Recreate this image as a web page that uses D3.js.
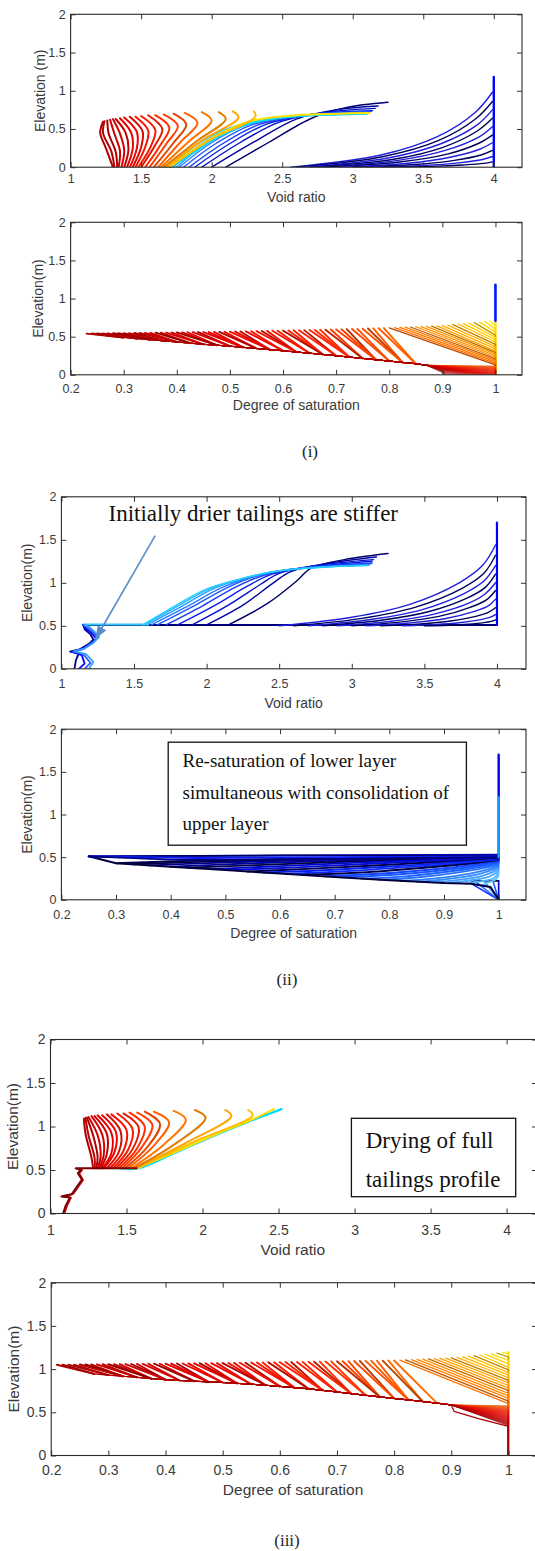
<!DOCTYPE html>
<html><head><meta charset="utf-8">
<script src="https://cdn.jsdelivr.net/npm/d3@7"></script>
<style>body{margin:0;background:#fff}svg{display:block}</style>
</head><body>
<svg id="c" width="535" height="1551"></svg>
<script>
// ================= DATA =================
const voidTicks=[1,1.5,2,2.5,3,3.5,4];
const satTicks=[0.2,0.3,0.4,0.5,0.6,0.7,0.8,0.9,1];
const elevTicks=[0,0.5,1,1.5,2];
const elevDomain=[0,2];
const voidDomain=[1,4.2];
const satDomain=[0.2,1.05];
const captions=["(i)","(ii)","(iii)"];

// Panel (i) void ratio
const p1Right=[
 [[2.56,0],[3.2,0.16],[3.6,0.40],[3.87,0.72],[3.99,0.98]],
 [[2.6,0],[3.22,0.14],[3.61,0.35],[3.87,0.63],[3.99,0.86]],
 [[2.65,0],[3.25,0.12],[3.63,0.31],[3.88,0.55],[3.99,0.75]],
 [[2.7,0],[3.28,0.10],[3.64,0.26],[3.88,0.47],[3.99,0.64]],
 [[2.75,0],[3.31,0.086],[3.65,0.216],[3.89,0.39],[3.99,0.53]],
 [[2.8,0],[3.33,0.068],[3.67,0.171],[3.89,0.31],[3.99,0.42]],
 [[2.9,0],[3.39,0.052],[3.69,0.13],[3.9,0.235],[3.99,0.32]],
 [[3.0,0],[3.44,0.036],[3.72,0.09],[3.91,0.16],[3.99,0.22]],
 [[3.1,0],[3.5,0.023],[3.75,0.057],[3.92,0.10],[3.99,0.14]],
 [[3.2,0],[3.56,0.011],[3.78,0.029],[3.93,0.05],[3.99,0.07]]
];
const p1Initial=[[4,0],[4,1.18]];
const p1Mid=[
 [[2.10,0],[2.40,0.32],[2.72,0.65],[2.95,0.78],[3.25,0.85]],
 [[2.00,0],[2.30,0.33],[2.60,0.63],[2.88,0.75],[3.18,0.80]],
 [[1.93,0],[2.20,0.32],[2.48,0.59],[2.82,0.72],[3.16,0.77]],
 [[1.88,0],[2.13,0.31],[2.40,0.57],[2.76,0.70],[3.14,0.74]],
 [[1.84,0],[2.08,0.31],[2.34,0.56],[2.70,0.69],[3.13,0.73]],
 [[1.80,0],[2.03,0.31],[2.28,0.55],[2.65,0.68],[3.12,0.72]],
 [[1.77,0],[1.99,0.31],[2.23,0.54],[2.60,0.67],[3.12,0.72]],
 [[1.75,0],[1.96,0.31],[2.19,0.53],[2.55,0.66],[3.11,0.71]],
 [[1.73,0],[1.93,0.31],[2.15,0.52],[2.50,0.65],[3.11,0.71]],
 [[1.71,0],[1.90,0.30],[2.12,0.51],[2.45,0.64],[3.10,0.70]]
];
const p1Cyan=[[1.71,0],[1.87,0.19],[2.04,0.39],[2.30,0.59],[2.62,0.67],[2.90,0.69],[3.10,0.70]];
const p1Yellow=[[1.70,0],[1.85,0.2],[2.02,0.4],[2.27,0.6],[2.6,0.68],[2.9,0.7],[3.12,0.71]];
const p1Arcs=[
 [[1.70,0],[2.00,0.37],[2.31,0.66],[2.30,0.73]],
 [[1.68,0],[1.94,0.36],[2.19,0.65],[2.15,0.73]],
 [[1.66,0],[1.90,0.35],[2.10,0.63],[2.05,0.72]],
 [[1.64,0],[1.84,0.34],[2.00,0.61],[1.93,0.72]],
 [[1.62,0],[1.78,0.33],[1.90,0.58],[1.81,0.71]],
 [[1.59,0],[1.73,0.32],[1.82,0.56],[1.73,0.70]],
 [[1.56,0],[1.68,0.31],[1.76,0.54],[1.66,0.69]],
 [[1.53,0],[1.64,0.30],[1.70,0.52],[1.60,0.68]],
 [[1.50,0],[1.60,0.29],[1.65,0.50],[1.55,0.68]],
 [[1.48,0],[1.57,0.28],[1.60,0.49],[1.50,0.67]],
 [[1.46,0],[1.53,0.27],[1.55,0.48],[1.46,0.66]],
 [[1.44,0],[1.50,0.26],[1.51,0.47],[1.42,0.66]],
 [[1.42,0],[1.47,0.25],[1.47,0.46],[1.38,0.65]],
 [[1.40,0],[1.44,0.24],[1.43,0.45],[1.35,0.64]],
 [[1.38,0],[1.41,0.23],[1.39,0.45],[1.32,0.63]],
 [[1.36,0],[1.38,0.22],[1.35,0.44],[1.30,0.63]],
 [[1.34,0],[1.35,0.21],[1.31,0.44],[1.28,0.62]],
 [[1.33,0],[1.32,0.20],[1.27,0.44],[1.26,0.61]],
 [[1.31,0],[1.29,0.20],[1.23,0.45],[1.24,0.60]],
 [[1.30,0],[1.25,0.25],[1.21,0.45],[1.23,0.595]]
];

// Panel (i) degree of saturation: surface points, lower end points, final (lower) envelope
const p2Top=[[0.23,0.540],[0.24,0.541],[0.25,0.542],[0.26,0.543],[0.27,0.544],[0.28,0.545],[0.29,0.546],[0.30,0.546],[0.31,0.547],[0.32,0.548],[0.33,0.549],[0.34,0.550],[0.35,0.551],[0.36,0.552],[0.37,0.553],[0.38,0.554],[0.39,0.555],[0.40,0.556],[0.41,0.557],[0.42,0.558],[0.43,0.559],[0.44,0.560],[0.45,0.560],[0.46,0.561],[0.47,0.562],[0.48,0.563],[0.49,0.564],[0.50,0.565],
 [0.51,0.567],[0.52,0.568],[0.53,0.570],[0.54,0.571],[0.55,0.573],[0.56,0.574],[0.57,0.576],[0.58,0.577],[0.59,0.579],[0.60,0.580],[0.61,0.582],[0.62,0.583],[0.63,0.585],[0.64,0.586],[0.65,0.588],[0.66,0.589],[0.67,0.591],[0.68,0.592],[0.69,0.594],[0.70,0.595],[0.71,0.597],[0.72,0.599],[0.73,0.601],[0.74,0.603],[0.75,0.605],[0.76,0.607],[0.77,0.609],[0.78,0.611],[0.79,0.613],
 [0.80,0.615],[0.81,0.618],[0.82,0.621],[0.83,0.624],[0.84,0.627],[0.85,0.630],[0.86,0.633],[0.87,0.636],[0.88,0.639],[0.89,0.642],[0.90,0.645],[0.91,0.652],[0.92,0.658],[0.93,0.665],[0.94,0.671],[0.95,0.678],[0.96,0.684],[0.97,0.691],[0.98,0.697],[0.99,0.704]];
const p2Bottom=[[0.905,0],[0.908,0],[0.912,0],[0.915,0],[0.918,0],[0.922,0],[0.925,0],[0.929,0],[0.932,0],[0.936,0],[0.939,0],[0.943,0],[0.946,0],[0.95,0],[0.953,0],[0.957,0],[0.96,0],[0.964,0],[0.967,0],[0.971,0],[0.974,0],[0.978,0],[0.981,0],[0.985,0],[0.988,0],[0.992,0],[0.995,0],[1.0,0],
 [1,0.004],[1,0.008],[1,0.012],[1,0.016],[1,0.02],[1,0.024],[1,0.028],[1,0.032],[1,0.036],[1,0.04],[1,0.044],[1,0.048],[1,0.052],[1,0.056],[1,0.06],[1,0.064],[1,0.068],[1,0.072],[1,0.076],[1,0.08],[1,0.084],[1,0.088],[1,0.092],[1,0.096],[1,0.1],[1,0.104],[1,0.108],[1,0.112],[1,0.116],
 [1,0.13],[1,0.15],[1,0.17],[1,0.19],[1,0.21],[1,0.23],[1,0.25],[1,0.27],[1,0.29],[1,0.31],[1,0.34],[1,0.37],[1,0.40],[1,0.43],[1,0.46],[1,0.49],[1,0.52],[1,0.56],[1,0.60],[1,0.64]];
const p2Env=[[0.23,0.530],[0.25,0.516],[0.275,0.502],[0.30,0.490],[0.325,0.475],[0.35,0.460],[0.375,0.445],[0.40,0.430],[0.425,0.415],[0.45,0.400],[0.475,0.388],[0.50,0.375],[0.525,0.360],[0.55,0.345],[0.575,0.330],[0.60,0.315],[0.625,0.299],[0.65,0.283],[0.675,0.267],[0.70,0.250],[0.725,0.232],[0.75,0.215],[0.775,0.197],[0.80,0.180],[0.825,0.162],[0.85,0.145],[0.87,0.125],[0.88,0.110],[0.89,0.085],[0.90,0.055],[0.905,0]];
const p2InitialWet=[[1,0],[1,0.71]];
const p2InitialUpper=[[1,0.71],[1,1.18]];

// Panel (ii) void ratio
const p3Right=[
 [[2.5,0.5],[3.0,0.6],[3.4,0.75],[3.74,1.0],[3.9,1.2],[3.99,1.44]],
 [[2.6,0.5],[3.07,0.587],[3.44,0.718],[3.76,0.936],[3.91,1.11],[3.99,1.32]],
 [[2.7,0.5],[3.13,0.574],[3.48,0.686],[3.77,0.872],[3.91,1.02],[3.99,1.2]],
 [[2.8,0.5],[3.2,0.564],[3.52,0.66],[3.79,0.819],[3.92,0.947],[3.99,1.1]],
 [[2.9,0.5],[3.27,0.553],[3.56,0.633],[3.81,0.766],[3.92,0.873],[3.99,1.0]],
 [[3.0,0.5],[3.33,0.543],[3.6,0.609],[3.82,0.718],[3.93,0.805],[3.99,0.91]],
 [[3.1,0.5],[3.4,0.533],[3.64,0.582],[3.84,0.665],[3.94,0.731],[3.99,0.81]],
 [[3.2,0.5],[3.47,0.522],[3.68,0.556],[3.86,0.612],[3.94,0.656],[3.99,0.71]],
 [[3.35,0.5],[3.57,0.514],[3.74,0.535],[3.88,0.569],[3.95,0.597],[3.99,0.63]],
 [[3.5,0.5],[3.66,0.507],[3.8,0.519],[3.91,0.537],[3.96,0.552],[3.99,0.57]]
];
const p3Initial=[[4,0.51],[4,1.7]];
const p3Shelf=[[1.15,0.51],[4,0.51]];
const p3ShelfLight=[[1.15,0.515],[1.6,0.515]];
const p3Mid=[
 [[2.15,0.51],[2.42,0.76],[2.62,1.02],[2.72,1.17],[2.95,1.27],[3.25,1.34]],
 [[2.00,0.51],[2.25,0.74],[2.46,1.0],[2.58,1.13],[2.85,1.23],[3.17,1.3]],
 [[1.90,0.51],[2.15,0.74],[2.37,0.98],[2.5,1.11],[2.75,1.2],[3.15,1.27]],
 [[1.80,0.51],[2.06,0.74],[2.28,0.96],[2.45,1.1],[2.7,1.18],[3.14,1.25]],
 [[1.72,0.51],[1.97,0.73],[2.2,0.95],[2.4,1.09],[2.65,1.17],[3.14,1.23]],
 [[1.66,0.51],[1.9,0.72],[2.15,0.95],[2.35,1.08],[2.6,1.16],[3.13,1.22]],
 [[1.62,0.51],[1.85,0.71],[2.1,0.94],[2.31,1.07],[2.55,1.15],[3.12,1.21]],
 [[1.59,0.51],[1.80,0.70],[2.06,0.94],[2.28,1.06],[2.52,1.145],[3.12,1.21]],
 [[1.57,0.51],[1.76,0.69],[2.02,0.93],[2.25,1.05],[2.5,1.14],[2.8,1.185],[3.11,1.205]],
 [[1.56,0.51],[1.73,0.68],[1.99,0.92],[2.22,1.04],[2.46,1.13],[2.8,1.18],[3.1,1.2]]
];
const p3Lower=[
 [[1.09,0],[1.10,0.10],[1.12,0.18],[1.06,0.20],[1.13,0.23],[1.19,0.29],[1.22,0.34],[1.20,0.40],[1.16,0.46],[1.15,0.51]],
 [[1.12,0],[1.16,0.06],[1.14,0.16],[1.07,0.20],[1.14,0.23],[1.20,0.29],[1.24,0.35],[1.21,0.41],[1.17,0.47],[1.15,0.51]],
 [[1.16,0],[1.20,0.07],[1.15,0.17],[1.08,0.20],[1.15,0.23],[1.21,0.30],[1.25,0.36],[1.22,0.42],[1.18,0.48],[1.15,0.51]],
 [[1.19,0],[1.22,0.08],[1.17,0.17],[1.09,0.205],[1.16,0.235],[1.22,0.30],[1.26,0.37],[1.23,0.43],[1.19,0.49],[1.16,0.51]]
];

// Panel (ii) degree of saturation
const p4Env=[[1.0,0],[0.99,0.1],[0.985,0.15],[0.95,0.188],[0.9,0.196],[0.8,0.228],[0.7,0.268],[0.6,0.308],[0.5,0.348],[0.4,0.388],[0.3,0.428],[0.25,0.51]];
const p4TopLines=[
 [[0.25,0.51],[1,0.53]],
 [[0.25,0.51],[0.6,0.52],[1,0.52]],
 [[0.25,0.51],[0.45,0.49],[0.7,0.5],[1,0.51]],
 [[0.25,0.51],[0.4,0.47],[0.6,0.47],[0.85,0.49],[1,0.5]]
];
const p4Arcs=[
 [[0.30,0.428],[0.45,0.46],[0.7,0.49],[1,0.51]],
 [[0.33,0.416],[0.48,0.45],[0.72,0.485],[1,0.507]],
 [[0.36,0.404],[0.51,0.44],[0.74,0.478],[1,0.503]],
 [[0.40,0.388],[0.54,0.425],[0.76,0.47],[1,0.499]],
 [[0.43,0.376],[0.57,0.41],[0.78,0.46],[1,0.494]],
 [[0.47,0.36],[0.6,0.395],[0.8,0.45],[1,0.489]],
 [[0.50,0.348],[0.63,0.38],[0.82,0.44],[1,0.483]],
 [[0.54,0.332],[0.66,0.365],[0.84,0.425],[1,0.476]],
 [[0.57,0.32],[0.69,0.35],[0.85,0.41],[1,0.469]],
 [[0.61,0.304],[0.72,0.335],[0.87,0.40],[1,0.461]],
 [[0.64,0.292],[0.75,0.32],[0.88,0.385],[1,0.452]],
 [[0.68,0.276],[0.78,0.305],[0.9,0.37],[1,0.443]],
 [[0.71,0.264],[0.8,0.29],[0.91,0.355],[1,0.432]],
 [[0.75,0.248],[0.83,0.275],[0.92,0.34],[1,0.42]],
 [[0.78,0.236],[0.85,0.262],[0.93,0.325],[1,0.407]],
 [[0.82,0.22],[0.88,0.248],[0.95,0.31],[1,0.392]],
 [[0.85,0.212],[0.9,0.238],[0.96,0.295],[1,0.376]],
 [[0.88,0.204],[0.92,0.228],[0.97,0.28],[1,0.358]],
 [[0.91,0.196],[0.94,0.22],[0.98,0.265],[1,0.338]],
 [[0.94,0.19],[0.96,0.21],[0.99,0.25],[1,0.316]],
 [[0.97,0.17],[0.98,0.2],[0.995,0.24],[1,0.29]]
];
const p4BottomFan=[
 [[1,0],[0.95,0.19]],[[1,0],[0.96,0.2]],[[1,0],[0.975,0.205]],[[1,0],[0.99,0.21]],[[1,0],[1,0.22]],[[0.95,0.222],[1,0.222]]
];
const p4Upper=[[1,0.5],[1,1.7]];
const p4UpperLate=[[1,0.5],[1,1.2]];

// Panel (iii) void ratio
const p5Lower=[[1.083,0],[1.10,0.09],[1.128,0.185],[1.072,0.196],[1.14,0.222],[1.207,0.389],[1.18,0.463],[1.2,0.5],[1.166,0.52],[1.566,0.52]];
const p5LowerB=[[1.093,0],[1.11,0.09],[1.135,0.18],[1.08,0.2],[1.15,0.225],[1.215,0.385],[1.19,0.46],[1.21,0.5]];
const p5Cyan=[[1.45,0.52],[1.58,0.52],[1.81,0.69],[2.11,0.92],[2.31,1.06],[2.52,1.2]];
const p5Yellow=[[1.57,0.52],[1.8,0.69],[2.1,0.92],[2.3,1.06],[2.47,1.2]];
const p5Arcs=[
 [[1.57,0.52],[1.95,0.83],[2.33,1.13],[2.30,1.19]],
 [[1.56,0.52],[1.90,0.82],[2.19,1.12],[2.15,1.19]],
 [[1.55,0.52],[1.82,0.80],[2.02,1.10],[1.95,1.19]],
 [[1.53,0.52],[1.75,0.80],[1.89,1.08],[1.81,1.18]],
 [[1.51,0.52],[1.68,0.78],[1.78,1.05],[1.68,1.17]],
 [[1.49,0.52],[1.64,0.77],[1.72,1.03],[1.62,1.17]],
 [[1.47,0.52],[1.60,0.76],[1.67,1.02],[1.57,1.16]],
 [[1.45,0.52],[1.57,0.75],[1.62,1.00],[1.52,1.16]],
 [[1.43,0.52],[1.54,0.74],[1.58,0.99],[1.48,1.15]],
 [[1.41,0.52],[1.51,0.73],[1.54,0.97],[1.44,1.15]],
 [[1.39,0.52],[1.48,0.72],[1.50,0.96],[1.40,1.14]],
 [[1.37,0.52],[1.45,0.71],[1.46,0.95],[1.37,1.14]],
 [[1.35,0.52],[1.42,0.70],[1.43,0.94],[1.34,1.13]],
 [[1.34,0.52],[1.40,0.69],[1.40,0.93],[1.31,1.13]],
 [[1.33,0.52],[1.37,0.68],[1.37,0.92],[1.29,1.12]],
 [[1.32,0.52],[1.35,0.67],[1.34,0.91],[1.27,1.12]],
 [[1.31,0.52],[1.33,0.66],[1.31,0.90],[1.25,1.11]],
 [[1.30,0.52],[1.31,0.65],[1.28,0.90],[1.24,1.10]],
 [[1.29,0.52],[1.29,0.64],[1.25,0.90],[1.23,1.10]],
 [[1.28,0.52],[1.27,0.64],[1.23,0.92],[1.22,1.09]]
];

// Panel (iii) degree of saturation
const p6Top=[[0.21,1.050],[0.22,1.051],[0.23,1.051],[0.24,1.052],[0.25,1.053],[0.26,1.053],[0.27,1.054],[0.28,1.055],[0.29,1.056],[0.30,1.056],[0.31,1.057],[0.32,1.058],[0.33,1.058],[0.34,1.059],[0.35,1.060],[0.36,1.060],[0.37,1.061],[0.38,1.062],[0.39,1.062],[0.40,1.063],[0.41,1.064],[0.42,1.065],[0.43,1.065],[0.44,1.066],[0.45,1.067],[0.46,1.067],[0.47,1.068],[0.48,1.069],[0.49,1.069],[0.50,1.070],
 [0.51,1.071],[0.52,1.072],[0.53,1.073],[0.54,1.074],[0.55,1.075],[0.56,1.076],[0.57,1.077],[0.58,1.078],[0.59,1.079],[0.60,1.080],[0.61,1.081],[0.62,1.082],[0.63,1.083],[0.64,1.084],[0.65,1.085],[0.66,1.086],[0.67,1.087],[0.68,1.088],[0.69,1.089],[0.70,1.090],[0.71,1.091],[0.72,1.092],[0.73,1.093],[0.74,1.094],[0.75,1.095],[0.76,1.096],[0.77,1.097],[0.78,1.098],[0.79,1.099],[0.80,1.100],
 [0.81,1.103],[0.82,1.106],[0.83,1.109],[0.84,1.112],[0.85,1.115],[0.86,1.118],[0.87,1.121],[0.88,1.124],[0.89,1.127],[0.90,1.130],[0.91,1.135],[0.92,1.142],[0.93,1.149],[0.94,1.156],[0.95,1.163],[0.96,1.170],[0.97,1.177],[0.98,1.184],[0.99,1.191]];
const p6Zb=[0.337,0.345,0.349,0.353,0.357,0.361,0.365,0.369,0.373,0.377,0.381,0.385,0.389,0.393,0.397,0.401,0.405,0.409,0.413,0.417,0.421,0.425,0.429,0.433,0.437,0.441,0.445,0.449,0.453,0.457,0.461,0.465,0.469,0.473,0.477,0.481,0.485,0.489,0.493,0.497,0.501,0.505,0.509,0.513,0.517,0.521,0.525,0.529,0.533,0.537,0.541,0.545,0.549,0.553,0.557,0.561,0.565,0.569,0.573,0.577,
 0.60,0.63,0.66,0.69,0.72,0.75,0.78,0.81,0.84,0.87,0.90,0.93,0.96,0.99,1.02,1.06,1.10,1.14,1.18];
const p6Env=[[0.21,1.050],[0.23,0.995],[0.25,0.968],[0.275,0.945],[0.30,0.930],[0.325,0.917],[0.35,0.905],[0.375,0.890],[0.40,0.877],[0.425,0.868],[0.45,0.860],[0.475,0.852],[0.50,0.845],[0.525,0.835],[0.55,0.825],[0.575,0.813],[0.60,0.800],[0.625,0.786],[0.65,0.772],[0.675,0.754],[0.70,0.735],[0.725,0.716],[0.75,0.697],[0.775,0.678],[0.80,0.660],[0.825,0.643],[0.85,0.625],[0.875,0.606],[0.90,0.585],[0.905,0.51],[0.946,0.43],[1.0,0.337]];
const p6InitialWet=[[1,0],[1,1.2]];

// ================= LAYOUT =================
const layout=[
 {id:1,x0:70.6,x1:522,y0:14.3,y1:167.2,xd:voidDomain,xt:voidTicks,xl:"Void ratio",yl:"Elevation (m)",tickC:179,labC:197,ylX:40,tf:12.5,lf:14},
 {id:2,x0:70.6,x1:522,y0:222.3,y1:374.8,xd:satDomain,xt:satTicks,xl:"Degree of saturation",yl:"Elevation(m)",tickC:388.4,labC:404.8,ylX:38.5,tf:12.5,lf:14},
 {id:3,x0:61.4,x1:526,y0:496.8,y1:668.8,xd:voidDomain,xt:voidTicks,xl:"Void ratio",yl:"Elevation(m)",tickC:683.5,labC:703,ylX:27.3,tf:12.5,lf:14},
 {id:4,x0:61.4,x1:526,y0:729.2,y1:899.8,xd:satDomain,xt:satTicks,xl:"Degree of saturation",yl:"Elevation(m)",tickC:914.5,labC:933.2,ylX:27.3,tf:12.5,lf:14},
 {id:5,x0:50.5,x1:537,y0:1039.5,y1:1213.5,xd:voidDomain,xt:voidTicks,xl:"Void ratio",yl:"Elevation(m)",tickC:1229.6,labC:1249.7,ylX:13,tf:14,lf:15.5},
 {id:6,x0:51.2,x1:537,y0:1282.7,y1:1455.5,xd:satDomain,xt:satTicks,xl:"Degree of saturation",yl:"Elevation(m)",tickC:1470,labC:1490,ylX:14,tf:14,lf:15.5}
];
const captionPos=[[310,451],[287,979],[287,1540]];
const SANS="'Liberation Sans', Arial, Helvetica, sans-serif";
const SERIF="'Liberation Serif', 'Times New Roman', serif";

const svg=d3.select("#c");
const defs=svg.append("defs");
defs.append("marker").attr("id","arr").attr("markerUnits","userSpaceOnUse")
  .attr("markerWidth",14).attr("markerHeight",12).attr("refX",13).attr("refY",5).attr("orient","auto")
  .append("path").attr("d","M0,0 L13,5 L0,10 Z").attr("fill","#5b8dc9");

function setup(p){
  const x=d3.scaleLinear().domain(p.xd).range([p.x0,p.x1]);
  const y=d3.scaleLinear().domain(elevDomain).range([p.y1,p.y0]);
  const cid="clip"+p.id;
  defs.append("clipPath").attr("id",cid).append("rect")
    .attr("x",p.x0).attr("y",p.y0).attr("width",p.x1-p.x0).attr("height",p.y1-p.y0);
  const g=svg.append("g");
  const plot=g.append("g").attr("clip-path",`url(#${cid})`).attr("fill","none")
    .attr("stroke-linejoin","round").attr("stroke-linecap","round");
  const ax=g.append("g");
  const fmt=d=>String(d);
  const padB=(p.tickC-p.y1)-0.35*p.tf;
  const style=sel=>{sel.attr("font-size",p.tf).attr("font-family",SANS);
    sel.select(".domain").remove();
    sel.selectAll(".tick line").attr("stroke","#333");
    sel.selectAll(".tick text").attr("fill","#3a3a3a");};
  ax.append("g").attr("transform",`translate(0,${p.y1})`)
    .call(d3.axisBottom(x).tickValues(p.xt).tickSize(-5).tickPadding(padB).tickFormat(fmt)).call(style);
  ax.append("g").attr("transform",`translate(0,${p.y0})`)
    .call(d3.axisTop(x).tickValues(p.xt).tickSize(-5).tickFormat("")).call(style);
  ax.append("g").attr("transform",`translate(${p.x0},0)`)
    .call(d3.axisLeft(y).tickValues(elevTicks).tickSize(-5).tickPadding(5).tickFormat(fmt)).call(style);
  ax.append("g").attr("transform",`translate(${p.x1},0)`)
    .call(d3.axisRight(y).tickValues(elevTicks).tickSize(-5).tickFormat("")).call(style);
  ax.append("rect").attr("x",p.x0).attr("y",p.y0).attr("width",p.x1-p.x0).attr("height",p.y1-p.y0)
    .attr("fill","none").attr("stroke","#2a2a2a").attr("stroke-width",1.1);
  ax.append("text").attr("x",(p.x0+Math.min(p.x1,535))/2).attr("y",p.labC).attr("dy","0.35em")
    .attr("text-anchor","middle").attr("font-family",SANS).attr("font-size",p.lf).attr("fill","#3a3a3a").text(p.xl);
  ax.append("text").attr("transform",`translate(${p.ylX},${(p.y0+p.y1)/2}) rotate(-90)`).attr("dy","0.35em")
    .attr("text-anchor","middle").attr("font-family",SANS).attr("font-size",p.lf).attr("fill","#3a3a3a").text(p.yl);
  const over=g.append("g");
  return {p,x,y,plot,over};
}
const P=layout.map(setup);

const smooth=d3.curveCatmullRom.alpha(0.5);
function draw(panel,pts,color,w,curve,op){
  const L=d3.line().x(d=>panel.x(d[0])).y(d=>panel.y(d[1])).curve(curve||d3.curveLinear);
  panel.plot.append("path").attr("d",L(pts)).attr("stroke",color).attr("stroke-width",w||1.3)
    .attr("stroke-opacity",op==null?1:op);
}
const warm=d3.scaleLinear().domain([0,0.1,0.25,0.45,0.7,1])
  .range(["#ffe600","#ffb400","#ff6a00","#ff2200","#ea0000","#b00000"]);
const coolRamp=d3.interpolateRgbBasis(["#00006a","#0010ff","#2f7fff","#22d0ff"]);
const darken=(c,k)=>d3.interpolateRgb(c,"#000")(k);

// ---------- Panel 1 ----------
{
 const pn=P[0];
 p1Right.forEach((c,i)=>draw(pn,c,i%2?"#00005a":"#1f1fe0",1.4,smooth));
 draw(pn,p1Initial,"#0000ff",2.4);
 p1Mid.forEach((c,i)=>draw(pn,c,coolRamp(i/(p1Mid.length-1)),1.4,smooth));
 draw(pn,p1Cyan,"#00d8ff",2.2,smooth);
 draw(pn,p1Yellow,"#ffe000",2,smooth);
 p1Arcs.forEach((c,i)=>{const f=0.08+0.92*i/(p1Arcs.length-1);
   draw(pn,c,i%3==2?darken(warm(f),0.12):warm(f),2,smooth);});
}
// ---------- Panel 2 & 6 fans ----------
function fan(pn,top,bottom,env,leaveS,hugMax){
  const n=top.length;
  for(let i=n-1;i>=0;i--){
    const T=top[i], B=bottom[i];
    const f=1-i/(n-1);
    const c=(i%4==1)?darken(warm(f),0.28):warm(f);
    if(i===0 || T[0]<hugMax){
      const rest=env.filter(q=>q[0]>T[0]+0.05 && (i===0 || q[0]<=leaveS));
      let tail=rest.slice();
      if(i!==0) tail.push(B);
      const last=tail[tail.length-1];
      if(last[0]===1 && last[1]>0) tail.push([1,0]);
      draw(pn,tail,c,i===0?1.2:0.55,null,i===0?1:0.85);
      draw(pn,[T,rest[0]],c,1.9);
    } else {
      const pts=[T,B];
      if(B[0]===1 && B[1]>0) pts.push([1,0]);
      draw(pn,pts,c,1.3);
    }
  }
}
{
 const pn=P[1];
 draw(pn,p2InitialWet,"#ffe000",2.2);
 fan(pn,p2Top,p2Bottom,p2Env,0.87,0.8);
 draw(pn,p2InitialUpper,"#0018ff",2.6);
}
{
 const pn=P[5];
 draw(pn,p6InitialWet,"#ffe000",2.2);
 fan(pn,p6Top,p6Zb.map(z=>[1,z]),p6Env,0.9,0.805);
}
// ---------- Panel 3 ----------
{
 const pn=P[2];
 draw(pn,p3Shelf,"#00007a",2);
 p3Right.forEach((c,i)=>draw(pn,c,i%2?"#00005a":"#1f1fe0",1.4,smooth));
 draw(pn,p3Initial,"#0000ff",2.2);
 p3Mid.forEach((c,i)=>draw(pn,c,coolRamp(i/(p3Mid.length-1)),1.4,smooth));
 draw(pn,p3ShelfLight,"#30c8ff",2);
 const lc=["#00008b","#0000ff","#2a5cff","#3aa0ff"];
 p3Lower.forEach((c,i)=>draw(pn,c,lc[i],1.8));
 pn.over.append("text").attr("x",108.5).attr("y",521.4).attr("font-family",SERIF).attr("font-size",23)
   .attr("fill","#111").text("Initially drier tailings are stiffer");
 pn.over.append("line").attr("x1",155.2).attr("y1",535.7).attr("x2",95.5).attr("y2",639)
   .attr("stroke","#5b8dc9").attr("stroke-width",1.6).attr("marker-end","url(#arr)");
}
// ---------- Panel 4 ----------
{
 const pn=P[3];
 p4BottomFan.forEach((c,i)=>draw(pn,c,i==5?"#000040":["#1030ff","#2a70ff","#40a0ff","#1060ff","#0000cc"][i],1.6));
 p4Arcs.forEach((c,i)=>{const f=i/(p4Arcs.length-1);
   const col=d3.interpolateRgbBasis(["#000050","#0000ff","#1a6cff","#5ec2ff"])(f);
   draw(pn,c,(i%3==1&&f<0.6)?"#000048":col,1.9,smooth);});
 draw(pn,p4Env,"#00003c",2);
 p4TopLines.forEach((c,i)=>draw(pn,c,["#0000ff","#000060","#0a20ff","#000080"][i],1.8));
 draw(pn,p4Upper,"#0000ee",2.4);
 draw(pn,p4UpperLate,"#1ea0ff",2.2);
 pn.over.append("rect").attr("x",168.2).attr("y",742.2).attr("width",298.2).attr("height",103)
   .attr("fill","#fff").attr("stroke","#111").attr("stroke-width",1.3);
 const t4=["Re-saturation of lower layer","simultaneous with consolidation of","upper layer"];
 const b4=[766.7,798.5,829.9];
 t4.forEach((s,i)=>pn.over.append("text").attr("x",182.5).attr("y",b4[i]).attr("font-family",SERIF)
   .attr("font-size",19).attr("fill","#111").text(s));
}
// ---------- Panel 5 ----------
{
 const pn=P[4];
 draw(pn,p5Cyan,"#00d8ff",2.2,smooth);
 draw(pn,p5Yellow,"#ffe000",2,smooth);
 p5Arcs.forEach((c,i)=>{const f=0.08+0.92*i/(p5Arcs.length-1);
   draw(pn,c,i%3==2?darken(warm(f),0.12):warm(f),2,smooth);});
 draw(pn,p5LowerB,"#d01010",1.6);
 draw(pn,p5Lower,"#7a0000",2);
 pn.over.append("rect").attr("x",351.4).attr("y",1118.3).attr("width",164.3).attr("height",78.4)
   .attr("fill","#fff").attr("stroke","#111").attr("stroke-width",1.3);
 pn.over.append("text").attr("x",365.7).attr("y",1148.3).attr("font-family",SERIF).attr("font-size",23)
   .attr("fill","#111").text("Drying of full");
 pn.over.append("text").attr("x",365.7).attr("y",1187).attr("font-family",SERIF).attr("font-size",23)
   .attr("fill","#111").text("tailings profile");
}
// ---------- captions ----------
captions.forEach((c,i)=>svg.append("text").attr("x",captionPos[i][0]).attr("y",captionPos[i][1]).attr("dy","0.35em")
  .attr("text-anchor","middle").attr("font-family",SERIF).attr("font-size",17).attr("fill","#222").text(c));
</script>
</body></html>
